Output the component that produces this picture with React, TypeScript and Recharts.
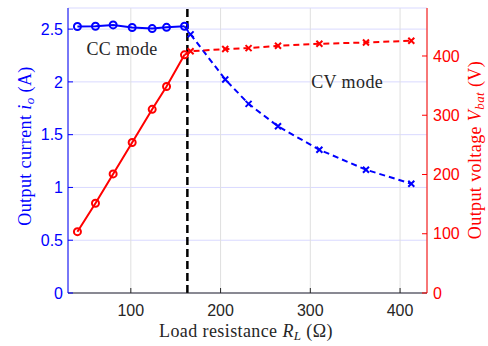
import React from 'react';
import {
  ComposedChart,
  Line,
  XAxis,
  YAxis,
  CartesianGrid,
  ReferenceLine,
  ReferenceDot,
  Label,
} from 'recharts';

// ---- data ----
const ccLoad = [40.5, 60.6, 80.3, 101.5, 123.8, 139.8, 159.8];
const ccCurrent = [2.525, 2.527, 2.54, 2.515, 2.505, 2.517, 2.527];
const ccVoltage = [103.5, 151.5, 201, 254, 310, 348.5, 402];

const cvLoad = [166.6, 205.2, 231.2, 264, 310.1, 362, 412.5];
const cvCurrent = [2.45, 2.023, 1.792, 1.579, 1.357, 1.168, 1.035];
const cvVoltage = [408, 411.7, 413.3, 417.2, 420.6, 422.8, 425.7];

const boundaryLoad = 163;

const xTicks = [100, 200, 300, 400];
const currentTicks = [0, 0.5, 1, 1.5, 2, 2.5];
const voltageTicks = [0, 100, 200, 300, 400];

const xDomain = [30, 430];
const currentDomain = [0, 2.7];
const voltageDomain = [0, 481];

const ccLabel = { x: 50.5, y: 2.31, text: 'CC mode' };
const cvLabel = { x: 301, y: 2.0, text: 'CV mode' };

// ---- derived tables ----
const ccData = ccLoad.map((x, i) => ({ x, cur: ccCurrent[i], volt: ccVoltage[i] }));
const cvData = [
  { x: ccLoad[ccLoad.length - 1], cur: ccCurrent[ccCurrent.length - 1], volt: ccVoltage[ccVoltage.length - 1] },
  ...cvLoad.map((x, i) => ({ x, cur: cvCurrent[i], volt: cvVoltage[i] })),
];

const BLUE = '#0000ff';
const RED = '#ff0000';
const SERIF = '"Liberation Serif", "Times New Roman", serif';
const SANS = '"Liberation Sans", Arial, sans-serif';

const makeCross = (color: string) => (props: any) => {
  const { cx, cy, index } = props;
  if (index === 0 || cx == null || cy == null) return <g key={`c-${index}`} />;
  const s = 3;
  return (
    <path
      key={`c-${index}`}
      d={`M${cx - s},${cy - s}L${cx + s},${cy + s}M${cx - s},${cy + s}L${cx + s},${cy - s}`}
      stroke={color}
      strokeWidth={2}
      fill="none"
      strokeDasharray="none"
    />
  );
};

const textLabel = (text: string) => (props: any) => {
  const vb = props.viewBox || {};
  const x = vb.cx ?? vb.x;
  const y = vb.cy ?? vb.y;
  return (
    <text x={x} y={y} fontFamily={SERIF} fontSize={18} letterSpacing={0.4} fill="#262626" dominantBaseline="central">
      {text}
    </text>
  );
};

export default function App() {
  return (
    <div style={{ position: 'absolute', left: 0, top: 0, width: 488, height: 346, background: '#fff' }}>
      <ComposedChart width={488} height={346} margin={{ top: 8, right: 0, bottom: 0, left: 0 }}>
        <CartesianGrid yAxisId="left" vertical={false} stroke="#d9d9ff" />
        <CartesianGrid yAxisId="left" horizontal={false} stroke="#dfdfdf" />
        <XAxis
          dataKey="x"
          type="number"
          domain={xDomain}
          ticks={xTicks}
          allowDataOverflow
          height={53}
          stroke="#262626"
          tickSize={-5}
          tickMargin={17}
          tick={{ fontSize: 16, fill: '#262626', fontFamily: SANS }}
        >
          <Label
            content={() => (
              <text x={246} y={331} textAnchor="middle" dominantBaseline="central" fontFamily={SERIF} fontSize={18} letterSpacing={0.4} fill="#262626">
                Load resistance{' '}
                <tspan fontStyle="italic">R</tspan>
                <tspan fontStyle="italic" fontSize={13} dy={4}>L</tspan>
                <tspan dy={-4}> (Ω)</tspan>
              </text>
            )}
          />
        </XAxis>
        <XAxis
          xAxisId="top"
          orientation="top"
          dataKey="x"
          type="number"
          domain={xDomain}
          ticks={xTicks}
          height={0}
          stroke="#666"
          tickSize={-5}
          tickFormatter={() => ''}
        />
        <YAxis
          yAxisId="left"
          type="number"
          domain={currentDomain}
          ticks={currentTicks}
          allowDataOverflow
          width={68}
          stroke={BLUE}
          tickSize={-5}
          tickMargin={10}
          tick={{ fontSize: 16, fill: BLUE, fontFamily: SANS }}
        >
          <Label
            content={() => (
              <text x={25} y={146} transform="rotate(-90 25 146)" textAnchor="middle" dominantBaseline="central" fontFamily={SERIF} fontSize={18} letterSpacing={0.4} fill={BLUE}>
                Output current{' '}
                <tspan fontStyle="italic">i</tspan>
                <tspan fontStyle="italic" fontSize={13} dy={4}>o</tspan>
                <tspan dy={-4}> (A)</tspan>
              </text>
            )}
          />
        </YAxis>
        <YAxis
          yAxisId="right"
          orientation="right"
          type="number"
          domain={voltageDomain}
          ticks={voltageTicks}
          allowDataOverflow
          width={61}
          stroke={RED}
          tickSize={-5}
          tickMargin={11}
          tick={{ fontSize: 16, fill: RED, fontFamily: SANS }}
        >
          <Label
            content={() => (
              <text x={475} y={150} transform="rotate(-90 475 150)" textAnchor="middle" dominantBaseline="central" fontFamily={SERIF} fontSize={18} letterSpacing={0.4} fill={RED}>
                Output voltage{' '}
                <tspan fontStyle="italic">V</tspan>
                <tspan fontStyle="italic" fontSize={13} dy={4}>bat</tspan>
                <tspan dy={-4}> (V)</tspan>
              </text>
            )}
          />
        </YAxis>

        <ReferenceLine
          yAxisId="left"
          x={boundaryLoad}
          stroke="#000"
          strokeWidth={2.5}
          strokeDasharray="8 4"
        />

        <Line
          data={cvData}
          dataKey="cur"
          yAxisId="left"
          stroke={BLUE}
          strokeWidth={2}
          strokeDasharray="6 4"
          dot={makeCross(BLUE)}
          activeDot={false}
          isAnimationActive={false}
        />
        <Line
          data={cvData}
          dataKey="volt"
          yAxisId="right"
          stroke={RED}
          strokeWidth={2}
          strokeDasharray="6 4"
          dot={makeCross(RED)}
          activeDot={false}
          isAnimationActive={false}
        />
        <Line
          data={ccData}
          dataKey="cur"
          yAxisId="left"
          stroke={BLUE}
          strokeWidth={2}
          dot={{ r: 3.5, stroke: BLUE, strokeWidth: 2, fill: 'none' }}
          activeDot={false}
          isAnimationActive={false}
        />
        <Line
          data={ccData}
          dataKey="volt"
          yAxisId="right"
          stroke={RED}
          strokeWidth={2}
          dot={{ r: 3.5, stroke: RED, strokeWidth: 2, fill: 'none' }}
          activeDot={false}
          isAnimationActive={false}
        />

        <ReferenceDot yAxisId="left" x={ccLabel.x} y={ccLabel.y} r={0} stroke="none" fill="none" label={textLabel(ccLabel.text)} />
        <ReferenceDot yAxisId="left" x={cvLabel.x} y={cvLabel.y} r={0} stroke="none" fill="none" label={textLabel(cvLabel.text)} />
      </ComposedChart>
    </div>
  );
}
